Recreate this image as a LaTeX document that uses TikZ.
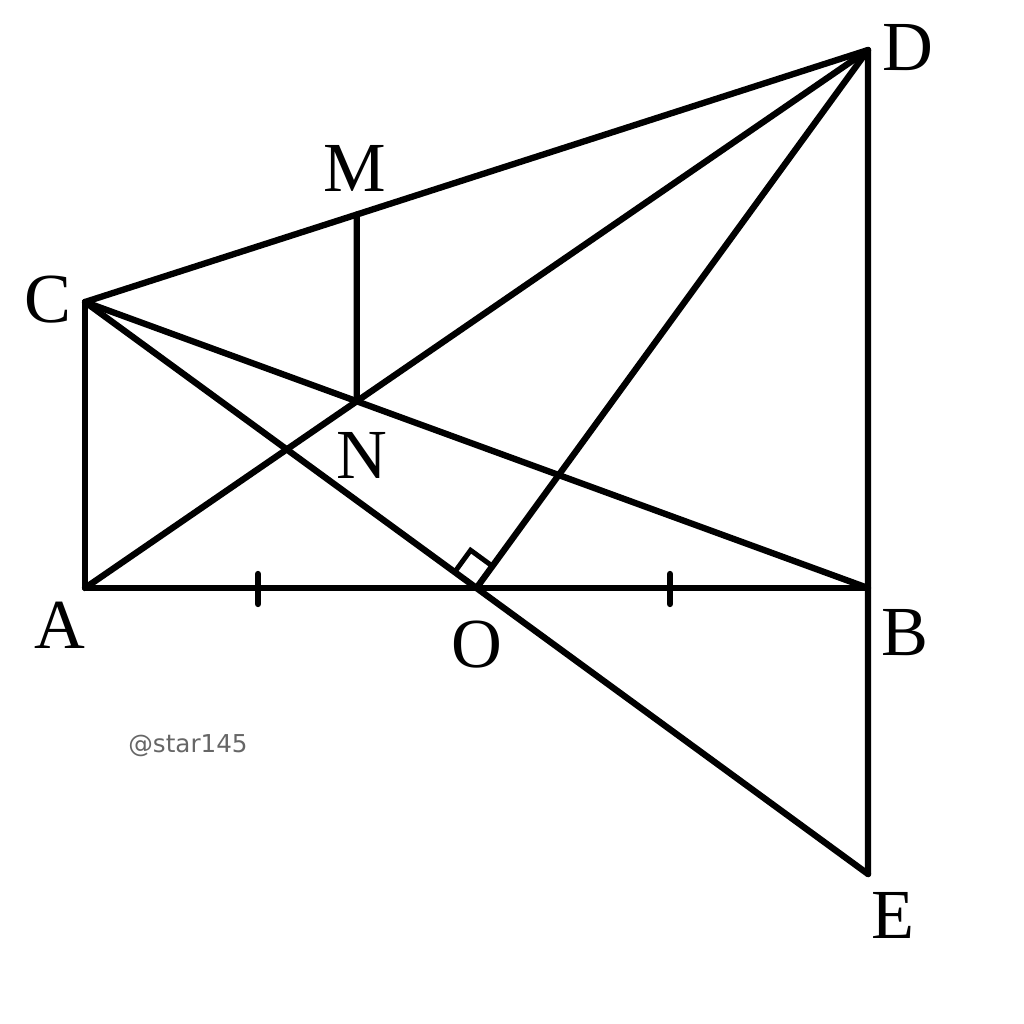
\documentclass[tikz,border=0pt]{standalone}
\usepackage{fontspec}
\setmainfont{Liberation Serif}
\setsansfont{DejaVu Sans}
\usepackage{tikz}
\usetikzlibrary{calc,backgrounds}
\tikzset{
  edge/.style={line width=1.8pt,line cap=round,line join=round},
  lbl/.style={font=\rmfamily\fontsize{20}{24}\selectfont}
}
\begin{document}
\begin{tikzpicture}[x=0.01cm,y=-0.01cm]
\useasboundingbox (0,0) rectangle (1024,1024);
\coordinate (A) at (85,588);
\coordinate (B) at (868,588);
\coordinate (C) at (85,302);
\coordinate (D) at (868,50);
\coordinate (O) at ($(A)!0.5!(B)$);
\coordinate (E) at (intersection of C--O and B--{(868,900)});
\coordinate (N) at (intersection of A--D and C--B);
\coordinate (Nup) at ($(N)+(0,-100)$);
\coordinate (M) at (intersection of N--Nup and C--D);
\coordinate (t1) at (258,588);
\coordinate (t2) at (670,588);
\coordinate (r1) at ($(O)!0.27cm!(C)$);
\coordinate (r2) at ($(O)!0.27cm!(D)$);
\coordinate (r3) at ($(r1)+(r2)-(O)$);
\draw[edge] (C) -- (D) -- (E);
\draw[edge] (C) -- (A) -- (B);
\draw[edge] (C) -- (B);
\draw[edge] (C) -- (E);
\draw[edge] (A) -- (D);
\draw[edge] (O) -- (D);
\draw[edge] (M) -- (N);
\draw[edge] ($(t1)+(0,-14)$) -- ($(t1)+(0,16)$);
\draw[edge] ($(t2)+(0,-14)$) -- ($(t2)+(0,16)$);
\draw[line width=1.4pt] (r1) -- (r3) -- (r2);
\node[lbl] (lA) at (60,625) {A};
\node[lbl] (lB) at (905,633) {B};
\node[lbl] (lO) at (477,645) {O};
\node[lbl] (lC) at (48,300) {C};
\node[lbl] (lD) at (908,48) {D};
\node[lbl] (lE) at (893,915) {E};
\node[lbl] (lM) at (355,168) {M};
\node[lbl] (lN) at (362,455) {N};
\node[font=\fontsize{7}{8}\sffamily,text=black!60] (wm) at (188,746) {@star145};
\end{tikzpicture}
\end{document}
